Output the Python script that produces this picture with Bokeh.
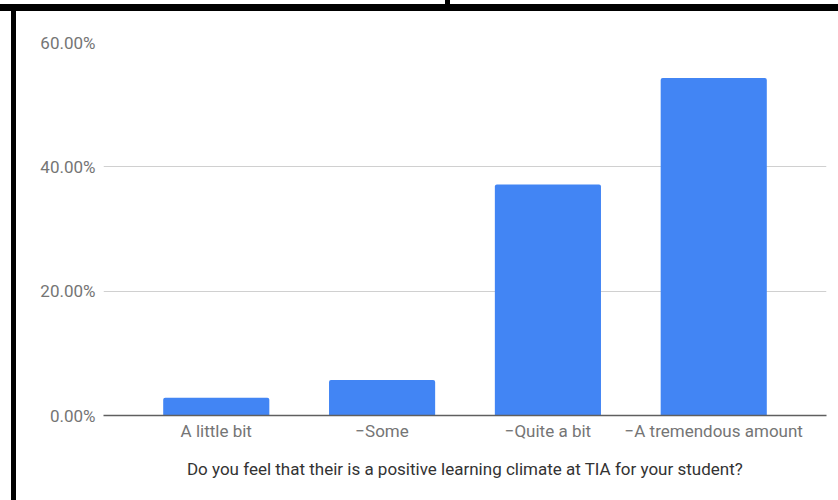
from bokeh.plotting import figure
from bokeh.models import ColumnDataSource, FactorRange, Range1d, FixedTicker, PrintfTickFormatter
from bokeh.embed import file_html
from bokeh.resources import INLINE

# Survey responses (share of respondents, in percent)
categories = ["A little bit", "\u2212Some", "\u2212Quite a bit", "\u2212A tremendous amount"]
shares = [2.86, 5.71, 37.14, 54.29]
y_ticks = [0, 20, 40, 60]
question = "Do you feel that their is a positive learning climate at TIA for your student?"

source = ColumnDataSource(data=dict(category=categories, share=shares))

# black frame strokes drawn as CSS background behind a transparent canvas
frame_css = (
    "linear-gradient(#000,#000) 445px 0px / 5px 4px no-repeat, "
    "linear-gradient(#000,#000) 0px 4px / 100% 7px no-repeat, "
    "linear-gradient(#000,#000) 11px 11px / 5px 489px no-repeat, "
    "#ffffff"
)

p = figure(
    width=838, height=500,
    x_range=FactorRange(factors=categories, range_padding=0.18, range_padding_units="absolute"),
    y_range=Range1d(0, 60),
    output_backend="svg", toolbar_location=None,
    min_border_left=103, min_border_right=12, min_border_top=42, min_border_bottom=85,
    styles={"background": frame_css},
)
p.border_fill_color = None
p.background_fill_color = "#ffffff"
p.outline_line_color = None

p.vbar(x="category", top="share", width=0.64, source=source,
       fill_color="#4285f4", line_color=None, border_radius=(2, 2, 0, 0))

# y axis: percentage labels, no line or ticks
p.yaxis.ticker = FixedTicker(ticks=y_ticks)
p.yaxis.formatter = PrintfTickFormatter(format="%.2f%%")
p.yaxis.axis_line_color = None
p.yaxis.major_tick_line_color = None
p.yaxis.major_tick_out = 0
p.yaxis.major_tick_in = 0
p.yaxis.minor_tick_line_color = None
p.yaxis.major_label_standoff = 8
p.yaxis.major_label_text_font = "Roboto"
p.yaxis.major_label_text_font_size = "17px"
p.yaxis.major_label_text_color = "#757575"

# x axis: baseline plus category labels and question
p.xaxis.axis_line_color = "#5f5f5f"
p.xaxis.axis_line_width = 1.5
p.xaxis.major_tick_line_color = None
p.xaxis.major_tick_out = 0
p.xaxis.major_tick_in = 0
p.xaxis.minor_tick_line_color = None
p.xaxis.major_label_standoff = 5
p.xaxis.major_label_text_font = "Roboto"
p.xaxis.major_label_text_font_size = "17px"
p.xaxis.major_label_text_color = "#757575"
p.xaxis.axis_label = question
p.xaxis.axis_label_text_font = "Roboto"
p.xaxis.axis_label_text_font_size = "17px"
p.xaxis.axis_label_text_font_style = "normal"
p.xaxis.axis_label_text_color = "#333333"
p.xaxis.axis_label_standoff = 15

p.xgrid.grid_line_color = None
p.ygrid.grid_line_color = "#d0d0d0"
p.ygrid.grid_line_width = 1

open("out.html", "w").write(file_html(p, INLINE))
